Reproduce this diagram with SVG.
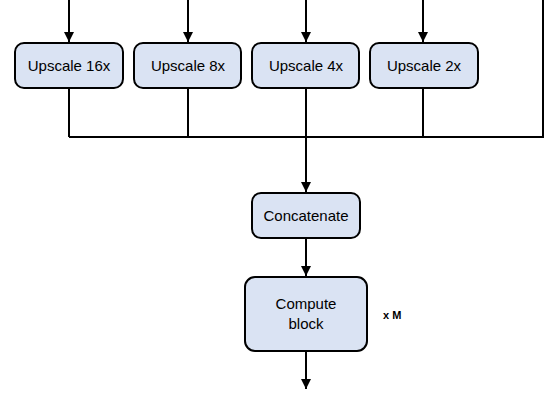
<svg xmlns="http://www.w3.org/2000/svg" width="551" height="395" viewBox="0 0 551 395">
  <style>
    .box { fill: #dae3f3; stroke: #000; stroke-width: 2; }
    .lbl { font-family: "Liberation Sans", Arial, sans-serif; font-size: 15px; fill: #000; text-anchor: middle; dominant-baseline: central; }
    .wire { fill: none; stroke: #000; stroke-width: 2; }
    .note { font-family: "Liberation Sans", Arial, sans-serif; font-size: 11px; font-weight: bold; fill: #000; }
  </style>
  <defs>
    <marker id="arrow" viewBox="0 0 10 10" refX="10" refY="5" markerWidth="5" markerHeight="5.5" markerUnits="strokeWidth" orient="auto">
      <path d="M0,0 L10,5 L0,10 Z" fill="#000"/>
    </marker>
  </defs>
  <rect width="551" height="395" fill="#fff"/>

  <g id="connectors">
    <line class="wire" x1="69" y1="0" x2="69" y2="42" marker-end="url(#arrow)"/>
    <line class="wire" x1="188" y1="0" x2="188" y2="42" marker-end="url(#arrow)"/>
    <line class="wire" x1="306" y1="0" x2="306" y2="42" marker-end="url(#arrow)"/>
    <line class="wire" x1="423" y1="0" x2="423" y2="42" marker-end="url(#arrow)"/>
    <line class="wire" x1="69" y1="88" x2="69" y2="137"/>
    <line class="wire" x1="188" y1="88" x2="188" y2="137"/>
    <line class="wire" x1="306" y1="88" x2="306" y2="137"/>
    <line class="wire" x1="423" y1="88" x2="423" y2="137"/>
    <polyline class="wire" points="69,137 543,137 543,0"/>
    <line class="wire" x1="306" y1="137" x2="306" y2="192" marker-end="url(#arrow)"/>
    <line class="wire" x1="306" y1="238" x2="306" y2="276" marker-end="url(#arrow)"/>
    <line class="wire" x1="306" y1="351" x2="306" y2="389" marker-end="url(#arrow)"/>
  </g>

  <g id="upscale16">
    <rect class="box" x="15" y="43" width="108" height="45" rx="9"/>
    <text class="lbl" x="69" y="65.5">Upscale 16x</text>
  </g>
  <g id="upscale8">
    <rect class="box" x="134" y="43" width="107" height="45" rx="9"/>
    <text class="lbl" x="188" y="65.5">Upscale 8x</text>
  </g>
  <g id="upscale4">
    <rect class="box" x="252" y="43" width="107" height="45" rx="9"/>
    <text class="lbl" x="306" y="65.5">Upscale 4x</text>
  </g>
  <g id="upscale2">
    <rect class="box" x="370" y="43" width="108" height="45" rx="9"/>
    <text class="lbl" x="424" y="65.5">Upscale 2x</text>
  </g>
  <g id="concatenate">
    <rect class="box" x="252" y="193" width="108" height="45" rx="9"/>
    <text class="lbl" x="306" y="215.5">Concatenate</text>
  </g>
  <g id="compute">
    <rect class="box" x="245" y="277" width="122" height="74" rx="10"/>
    <text class="lbl" x="306" y="303">Compute</text>
    <text class="lbl" x="306" y="323">block</text>
  </g>
  <text class="note" x="383" y="319">x M</text>
</svg>
